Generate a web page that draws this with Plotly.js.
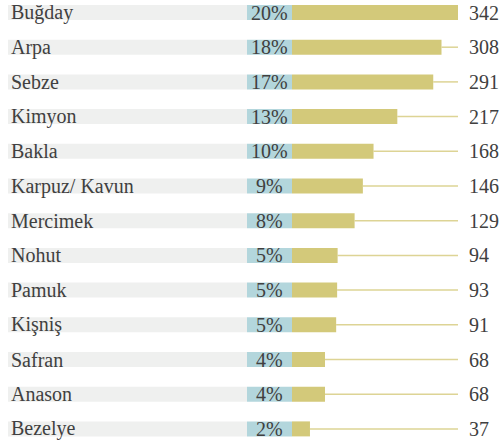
<!DOCTYPE html>
<html><head><meta charset="utf-8">
<script src="https://cdn.plot.ly/plotly-3.0.1.min.js"></script>
<style>html,body{margin:0;padding:0;background:#fff;}#chart{width:501px;height:443px;}</style>
</head><body><div id="chart"></div>
<script>
const categories = ["Buğday","Arpa","Sebze","Kimyon","Bakla","Karpuz/ Kavun","Mercimek","Nohut","Pamuk","Kişniş","Safran","Anason","Bezelye"];
const values = [342,308,291,217,168,146,129,94,93,91,68,68,37];
const percents = [20,18,17,13,10,9,8,5,5,5,4,4,2];

const W = 501, H = 443;
const barStartPx = 292, barEndPx = 458;
const maxVal = Math.max(...values);
const pxPerUnit = (barEndPx - barStartPx) / maxVal;
const rowTop = 12.5, rowStep = 34.7;
const idx = categories.map((_, i) => i);
const halfH = 7.5 / rowStep;

const FONT = '"Liberation Serif", serif';
const textColor = '#404040';
const FS = 20;

const shapes = [];
const annotations = [];
categories.forEach((c, i) => {
  shapes.push({type:'rect', xref:'paper', yref:'y', x0:8/W, x1:247/W, y0:i-halfH, y1:i+halfH,
    fillcolor:'#eff0ef', line:{width:0}, layer:'below'});
  shapes.push({type:'rect', xref:'paper', yref:'y', x0:247/W, x1:barStartPx/W, y0:i-halfH, y1:i+halfH,
    fillcolor:'#b3d6dc', line:{width:0}, layer:'below'});
  shapes.push({type:'line', xref:'x', yref:'y', x0:values[i], x1:maxVal, y0:i, y1:i,
    line:{color:'#ddd495', width:1.5}, layer:'below'});
  annotations.push({xref:'paper', yref:'y', x:9/W, y:i, xanchor:'left', yanchor:'middle',
    text:c, showarrow:false, font:{family:FONT, size:FS, color:textColor}});
  annotations.push({xref:'paper', yref:'y', x:269/W, y:i, xanchor:'center', yanchor:'middle',
    text:percents[i] + '%', showarrow:false, font:{family:FONT, size:FS, color:textColor}});
  annotations.push({xref:'paper', yref:'y', x:467/W, y:i, xanchor:'left', yanchor:'middle',
    text:String(values[i]), showarrow:false, font:{family:FONT, size:FS, color:textColor}});
});

const trace = {
  type:'bar', orientation:'h', x:values, y:idx, base:0,
  width: 15 / rowStep,
  marker:{color:'#d3c97a', line:{width:0}},
  hoverinfo:'none'
};

const layout = {
  width:W, height:H,
  margin:{l:0,r:0,t:0,b:0,pad:0},
  paper_bgcolor:'#fff', plot_bgcolor:'rgba(0,0,0,0)',
  showlegend:false,
  xaxis:{range:[-barStartPx/pxPerUnit, (W-barStartPx)/pxPerUnit], visible:false, fixedrange:true},
  yaxis:{range:[(H-rowTop)/rowStep, -rowTop/rowStep], visible:false, fixedrange:true},
  shapes:shapes, annotations:annotations
};
Plotly.newPlot('chart', [trace], layout, {displayModeBar:false, staticPlot:true});
</script></body></html>
